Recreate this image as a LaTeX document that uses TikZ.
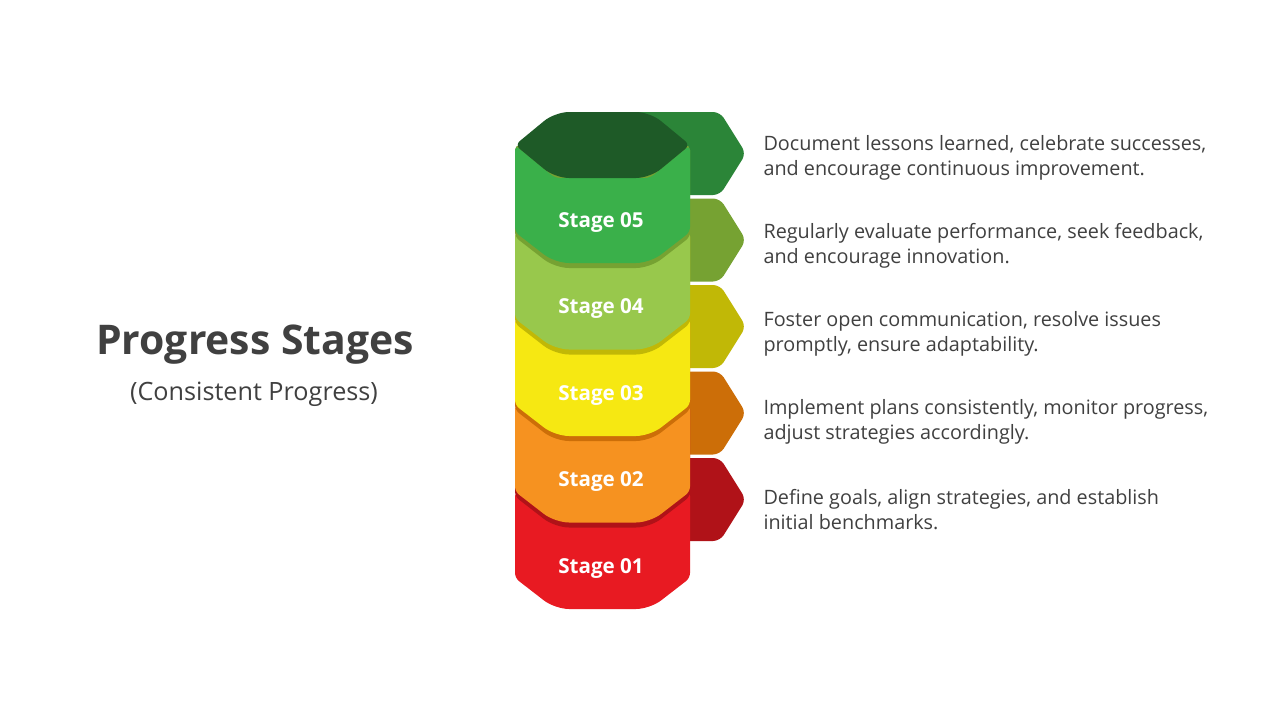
\documentclass[tikz,border=0pt]{standalone}
\usepackage{fontspec}
\setmainfont{Open Sans}
\definecolor{txt}{HTML}{404040}
\definecolor{sA}{HTML}{E81A22}
\definecolor{sB}{HTML}{F69220}
\definecolor{sC}{HTML}{F6E812}
\definecolor{sD}{HTML}{98C84C}
\definecolor{sE}{HTML}{3AB04A}
\definecolor{dA}{HTML}{B01218}
\definecolor{dB}{HTML}{CC6E08}
\definecolor{dC}{HTML}{C1B806}
\definecolor{dD}{HTML}{76A232}
\definecolor{dE}{HTML}{2B8538}
\definecolor{topface}{HTML}{1E5A27}
\begin{document}
\begin{tikzpicture}[x=1pt,y=-1pt,
  desc/.style={anchor=west,align=left,text=txt,font=\fontsize{19.8}{25}\selectfont},
  stagelabel/.style={text=white,font=\bfseries\fontsize{20.6}{24}\selectfont},
  tabshape/.style={rounded corners=7}]
\useasboundingbox (0,0) rectangle (1280,720);
\fill[white] (0,0) rectangle (1280,720);

% title
\node[text=txt,font=\bfseries\fontsize{40.9}{48}\selectfont] (title) at (255,345) {Progress Stages};
\node[text=txt,font=\fontsize{25.2}{30}\selectfont] (subtitle) at (254,394) {(Consistent Progress)};

% tabs
\foreach \i/\d in {0/dE,1/dD,2/dC,3/dB,4/dA}{
  \pgfmathsetmacro{\T}{112+86.5*\i}
  \pgfmathsetmacro{\M}{\T+41.5}
  \pgfmathsetmacro{\B}{\T+83}
  \fill[\d,tabshape] (630,\T) -- (720,\T) -- (746,\M) -- (720,\B) -- (630,\B) -- cycle;
}

% stages, bottom to top
\foreach \i/\c/\lower/\lab in {4/sA/none/01,3/sB/dA/02,2/sC/dB/03,1/sD/dC/04,0/sE/dD/05}{
  \pgfmathsetmacro{\T}{145+86.5*\i}
  \pgfmathsetmacro{\B}{\T+87}
  \pgfmathsetmacro{\Tc}{\T+33}
  \pgfmathsetmacro{\Bc}{\B+31}
  \pgfmathsetmacro{\Bs}{\B+5}
  \pgfmathsetmacro{\Bcs}{\Bc+5}
  \ifnum\i<4
    \fill[\lower,rounded corners=5] (515,\T) -- (515,\Bs) [rounded corners=14] -- (555,\Bcs) -- (650,\Bcs) [rounded corners=5] -- (690,\Bs) -- (690,\T) -- cycle;
  \fi
  \fill[\c,rounded corners=5] (515,\T) -- (515,\B) [rounded corners=14] -- (555,\Bc) -- (650,\Bc) [rounded corners=5] -- (690,\B) -- (690,\T) -- (650,\Tc) -- (555,\Tc) -- cycle;
  \pgfmathsetmacro{\L}{\T+77.5}
  \node[stagelabel] (st\lab) at (601,\L) {Stage \lab};
}

% top face
\fill[topface,rounded corners=6] (515,145) [rounded corners=14] -- (555,112) -- (650,112) [rounded corners=6] -- (690,145) [rounded corners=14] -- (650,178) -- (555,178) [rounded corners=6] -- cycle;

% descriptions
\node[desc] (t5) at (760,158) {Document lessons learned, celebrate successes,\\and encourage continuous improvement.};
\node[desc] (t4) at (760,246) {Regularly evaluate performance, seek feedback,\\and encourage innovation.};
\node[desc] (t3) at (760,334) {Foster open communication, resolve issues\\promptly, ensure adaptability.};
\node[desc] (t2) at (760,422) {Implement plans consistently, monitor progress,\\adjust strategies accordingly.};
\node[desc] (t1) at (760,510) {Define goals, align strategies, and establish\\initial benchmarks.};
\end{tikzpicture}
\end{document}
